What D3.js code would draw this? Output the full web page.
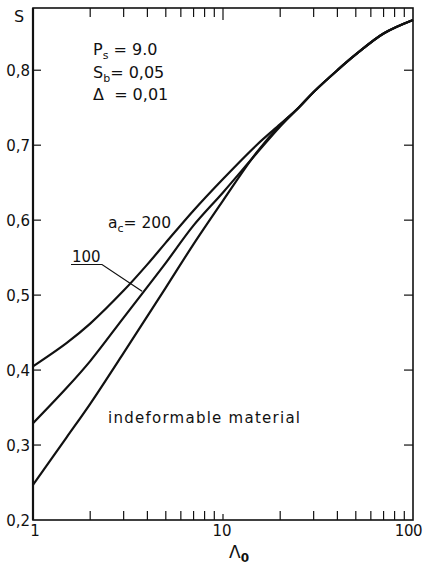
<!DOCTYPE html>
<html>
  <head>
    <meta charset="utf-8">
    <style>
      body { margin: 0; background: #fff; }
      svg text { font-family: "DejaVu Sans", sans-serif; fill: #111; }
      .curve { fill: none; stroke: #111; stroke-width: 2.2px; stroke-linejoin: round; }
      .frame { fill: none; stroke: #111; stroke-width: 1.6px; }
      .tick { stroke: #111; stroke-width: 1.2px; }
    </style>
  </head>
  <body>
    <script src="https://d3js.org/d3.v7.min.js"></script>
    <script>
      const width = 424;
      const height = 566;
      const margin = {top: 8, right: 11, bottom: 46, left: 33};

      // data
      const lambda = [1, 1.5, 2, 3, 4, 5, 7, 10, 15, 20, 25, 30, 40, 50, 70, 100];
      const sRigid = [0.247, 0.310, 0.355, 0.423, 0.472, 0.510, 0.568, 0.626, 0.690, 0.727, 0.750, 0.771, 0.800, 0.821, 0.849, 0.867];
      const s100   = [0.329, 0.376, 0.412, 0.470, 0.511, 0.543, 0.593, 0.637, 0.689, 0.725, 0.750, 0.771, 0.800, 0.821, 0.849, 0.867];
      const s200   = [0.405, 0.436, 0.462, 0.506, 0.541, 0.570, 0.613, 0.655, 0.700, 0.728, 0.750, 0.771, 0.800, 0.821, 0.849, 0.867];
      const yTicks = [0.2, 0.3, 0.4, 0.5, 0.6, 0.7, 0.8];
      const xLabels = [1, 10, 100];

      const svg = d3.select("body")
        .append("svg")
        .attr("width", width)
        .attr("height", height);

      const x = d3.scaleLog()
        .domain([1, 100])
        .range([margin.left, width - margin.right]);

      const y = d3.scaleLinear()
        .domain([0.2, 0.883])
        .range([height - margin.bottom, margin.top]);

      const x0 = x.range()[0], x1 = x.range()[1];
      const y0 = y.range()[0], y1 = y.range()[1];

      // frame
      svg.append("rect")
        .attr("class", "frame")
        .attr("x", x0).attr("y", y1)
        .attr("width", x1 - x0).attr("height", y0 - y1);
      svg.append("line")
        .attr("x1", x0).attr("x2", x0).attr("y1", y1).attr("y2", y0)
        .attr("stroke", "#111").attr("stroke-width", 2.2);

      // log ticks top and bottom, pointing inward
      const logTicks = [];
      [1, 10].forEach(d => { for (let k = 2; k <= 9; k++) logTicks.push(d * k); });
      logTicks.push(10);
      logTicks.forEach(t => {
        const len = t === 10 ? 12 : 9;
        svg.append("line").attr("class", "tick")
          .attr("x1", x(t)).attr("x2", x(t))
          .attr("y1", y0).attr("y2", y0 - (t === 10 ? 6 : 9));
        svg.append("line").attr("class", "tick")
          .attr("x1", x(t)).attr("x2", x(t))
          .attr("y1", y1).attr("y2", y1 + len);
      });

      // y ticks left and right, inward
      yTicks.slice(1).forEach(t => {
        svg.append("line").attr("class", "tick")
          .attr("x1", x0).attr("x2", x0 + 8)
          .attr("y1", y(t)).attr("y2", y(t));
        svg.append("line").attr("class", "tick")
          .attr("x1", x1).attr("x2", x1 - 9)
          .attr("y1", y(t)).attr("y2", y(t));
      });

      // y labels
      svg.selectAll(".ylab")
        .data(yTicks)
        .enter()
        .append("text")
        .attr("class", "ylab")
        .attr("x", x0 - 3)
        .attr("y", d => y(d) + 6)
        .attr("text-anchor", "end")
        .attr("font-size", 15)
        .text(d => d3.format(".1f")(d).replace(".", ","));

      svg.append("text")
        .attr("x", 14).attr("y", 22)
        .attr("font-size", 16)
        .text("S");

      // x labels
      svg.selectAll(".xlab")
        .data(xLabels)
        .enter()
        .append("text")
        .attr("class", "xlab")
        .attr("x", d => d === 100 ? width - 2 : x(d) + (d === 1 ? 2 : -1))
        .attr("y", y0 + 16)
        .attr("text-anchor", d => d === 100 ? "end" : "middle")
        .attr("font-size", 15)
        .attr("letter-spacing", d => d === 100 ? -0.5 : 0)
        .text(d => d);

      const xTitle = svg.append("text")
        .attr("x", 229).attr("y", 558)
        .attr("font-size", 17);
      xTitle.append("tspan").text("Λ");
      xTitle.append("tspan").attr("dy", 4).attr("font-size", 12).attr("font-weight", "bold").text("0");

      // curves
      const line = d3.line()
        .x(d => x(d[0]))
        .y(d => y(d[1]))
        .curve(d3.curveCatmullRom.alpha(0.5));

      [sRigid, s100, s200].forEach(series => {
        svg.append("path")
          .attr("class", "curve")
          .attr("d", line(lambda.map((l, i) => [l, series[i]])));
      });

      // parameter block
      const params = [
        ["P", "s", " = 9.0"],
        ["S", "b", "= 0,05"],
        ["Δ", "", "  = 0,01"]
      ];
      params.forEach((p, i) => {
        const t = svg.append("text")
          .attr("x", 93).attr("y", 55 + i * 22.5)
          .attr("font-size", 16)
          .attr("xml:space", "preserve");
        t.append("tspan").text(p[0]);
        if (p[1]) t.append("tspan").attr("dy", 4).attr("font-size", 11).text(p[1]);
        t.append("tspan").attr("dy", p[1] ? -4 : 0).text(p[2]);
      });

      // curve labels
      const ac = svg.append("text")
        .attr("x", 108).attr("y", 228)
        .attr("font-size", 15.5);
      ac.append("tspan").text("a");
      ac.append("tspan").attr("dy", 4).attr("font-size", 11).text("c");
      ac.append("tspan").attr("dy", -4).text("= 200");

      svg.append("text")
        .attr("x", 72).attr("y", 262)
        .attr("font-size", 15)
        .text("100");
      svg.append("path")
        .attr("fill", "none").attr("stroke", "#111").attr("stroke-width", 1.2)
        .attr("d", `M71,264.5 L102,264.5 L${x(3.75)},${y(0.505)}`);

      svg.append("text")
        .attr("x", 108).attr("y", 423)
        .attr("font-size", 15)
        .attr("textLength", 192)
        .text("indeformable  material");
    </script>
  </body>
</html>
